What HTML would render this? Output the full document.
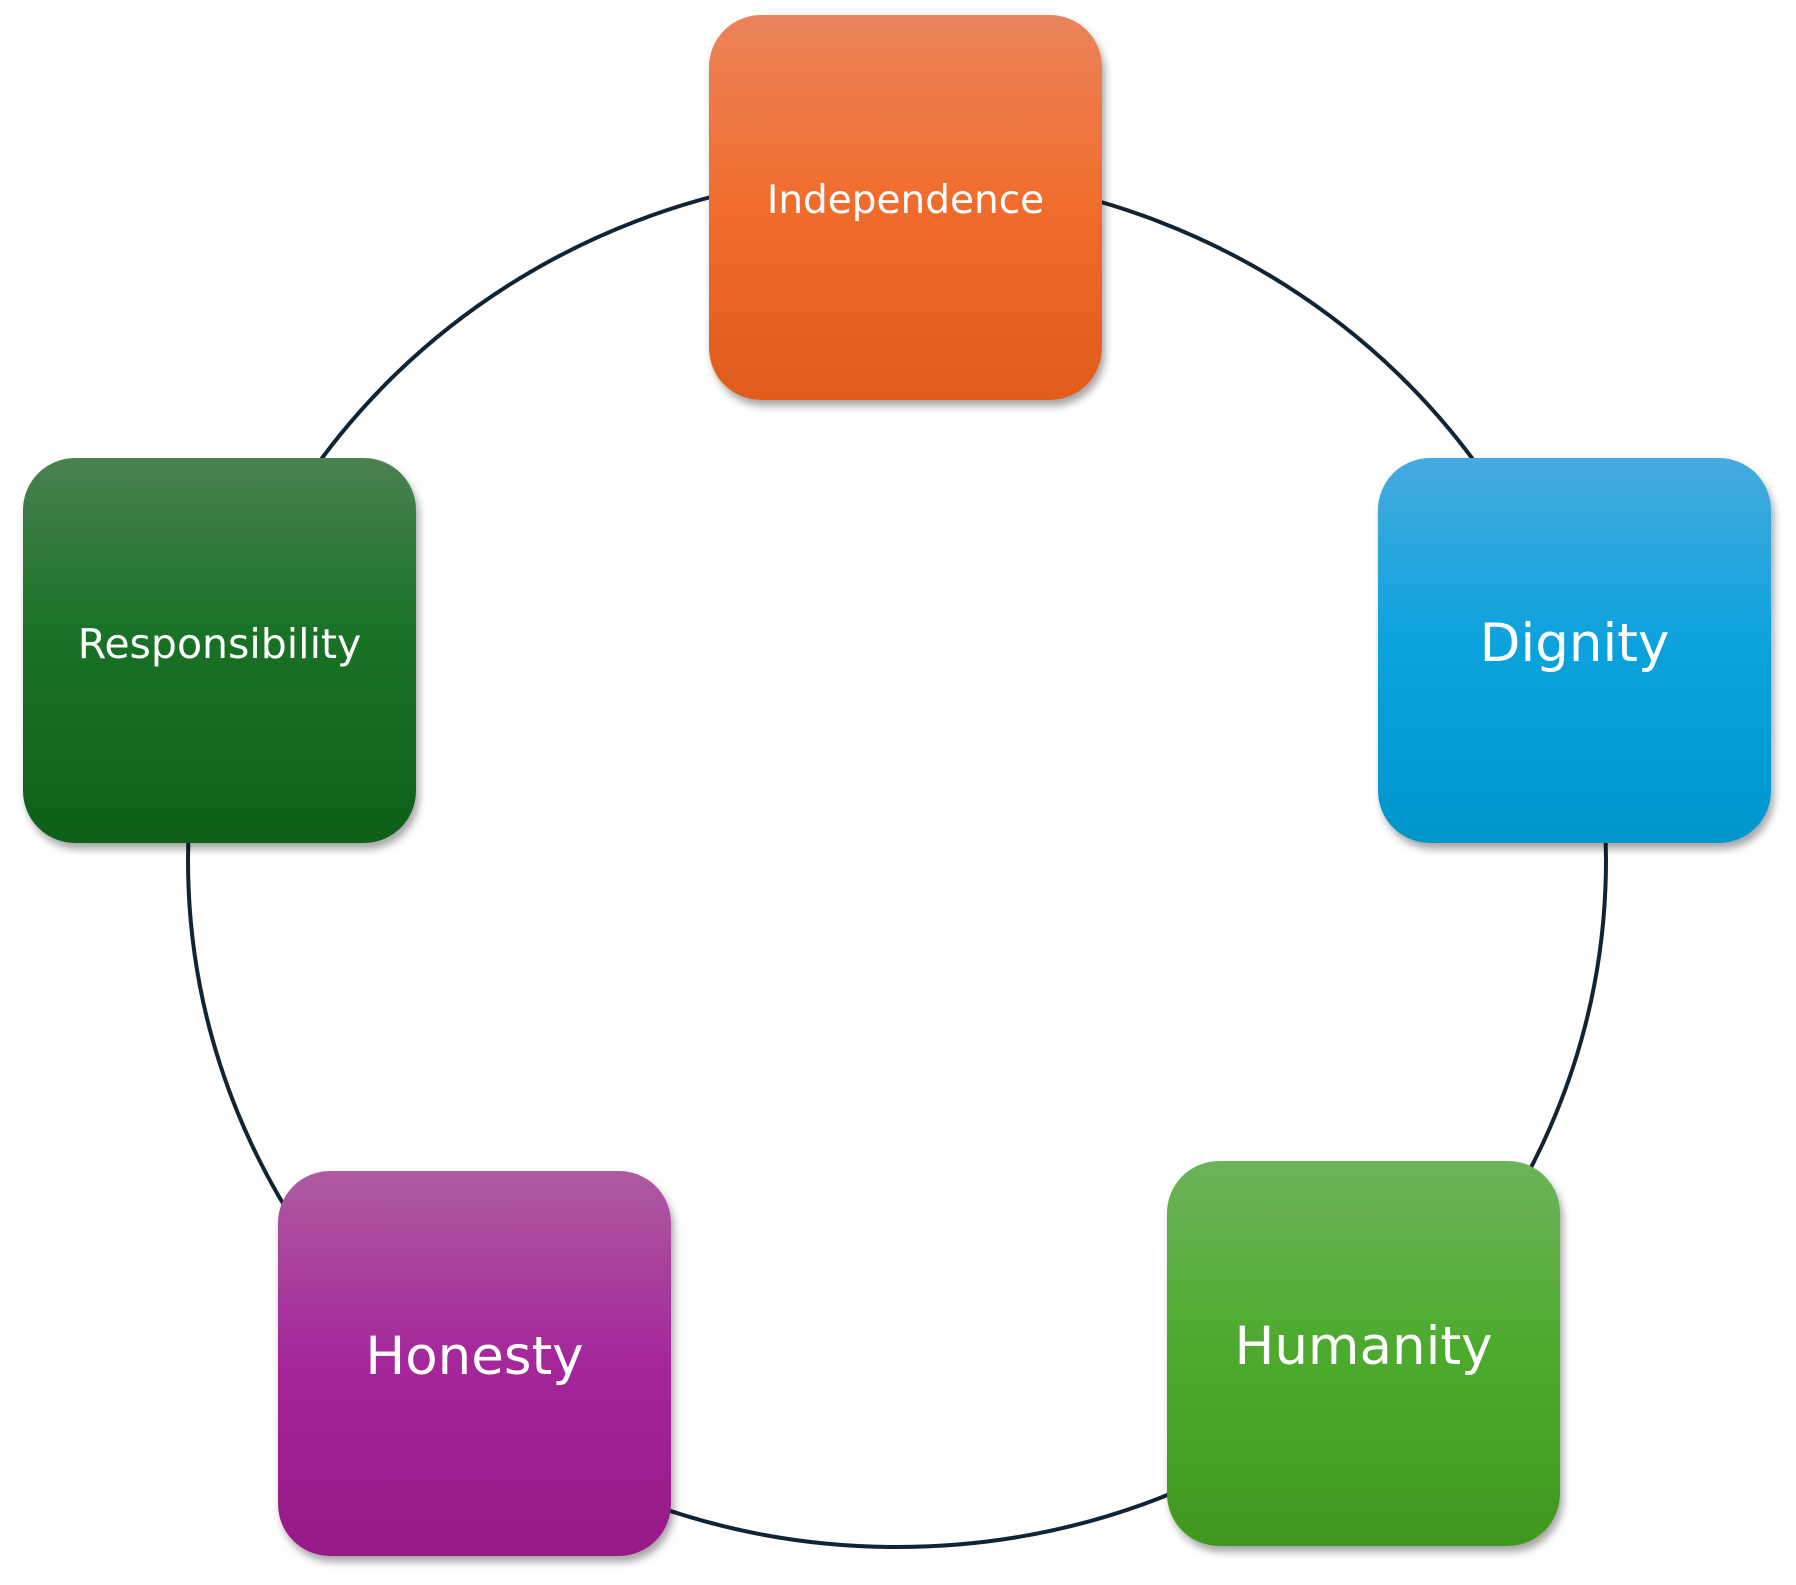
<!DOCTYPE html>
<html><head><style>
body{margin:0;width:1796px;height:1585px;background:#fff;position:relative;overflow:hidden;font-family:"DejaVu Sans","Liberation Sans",sans-serif}
.b{position:absolute;width:393px;height:385px;border-radius:52px;box-shadow:3px 6px 8px rgba(0,0,0,0.35);color:#fff;display:flex;align-items:center;justify-content:center;box-sizing:border-box;padding-bottom:14px}
</style></head><body>
<svg width="1796" height="1585" style="position:absolute;left:0;top:0">
<ellipse cx="897" cy="860" rx="709" ry="687" fill="none" stroke="#0f2535" stroke-width="4"/>
</svg>
<div class="b" style="left:709px;top:15px;background:linear-gradient(#ec835b,#f06c2c 50%,#e05c1a);font-size:39px">Independence</div>
<div class="b" style="left:23px;top:458px;background:linear-gradient(#4a8150,#197226 45%,#0f5f18);font-size:41px">Responsibility</div>
<div class="b" style="left:1378px;top:458px;background:linear-gradient(#46aadf,#0aa2dd 50%,#0096cc);font-size:53px">Dignity</div>
<div class="b" style="left:1167px;top:1161px;background:linear-gradient(#6cb35a,#4caa2c 50%,#40981e);font-size:53px">Humanity</div>
<div class="b" style="left:278px;top:1171px;background:linear-gradient(#ae5aa0,#a4269a 50%,#971a87);font-size:53px">Honesty</div>
</body></html>
